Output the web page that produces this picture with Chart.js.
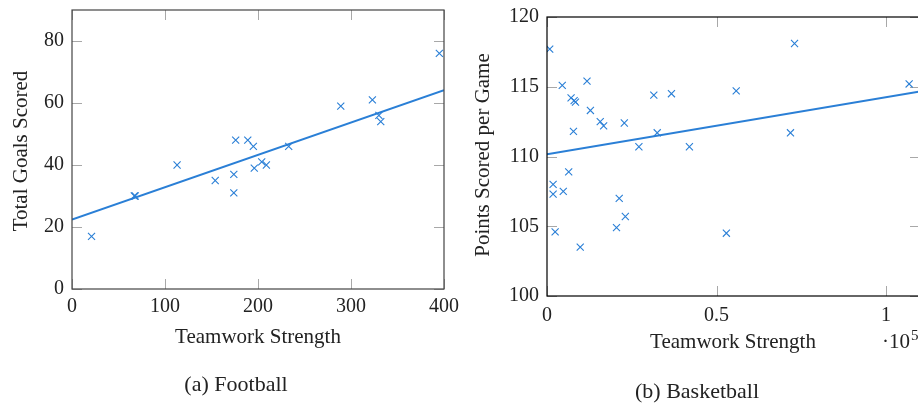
<!DOCTYPE html>
<html>
<head>
<meta charset="utf-8">
<script src="https://cdn.jsdelivr.net/npm/chart.js@4.4.1/dist/chart.umd.min.js"></script>
<style>
  html, body { margin: 0; padding: 0; background: #fff; overflow: hidden; width: 918px; height: 403px; }
  canvas { position: absolute; top: 0; }
  #footballCanvas { left: 0; }
  #basketballCanvas { left: 470px; }
</style>
</head>
<body>
<canvas id="footballCanvas" width="470" height="403"></canvas>
<canvas id="basketballCanvas" width="470" height="403"></canvas>
<script>
// football: teamwork strength vs total goals
var footballX = [21, 67, 68, 113, 154, 174, 174, 176, 189, 195, 196, 204, 209, 233, 289, 323, 330, 332, 395];
var footballY = [17, 30, 30, 40, 35, 37, 31, 48, 48, 46, 39, 41, 40, 46, 59, 61, 56, 54, 76];
var footballFitX = [0, 400];
var footballFitY = [22.4, 64.1];
var footballXTicks = [0, 100, 200, 300, 400];
var footballYTicks = [0, 20, 40, 60, 80];

// basketball: teamwork strength vs points per game
var basketballX = [800, 4500, 11800, 7100, 8000, 8400, 12800, 15700, 16700, 7800, 22800, 31500, 36700, 32500,
                   27100, 42000, 55800, 73000, 71800, 106800, 6400, 1800, 1800, 4800, 21300, 23100, 20500, 2400, 9800, 52900];
var basketballY = [117.7, 115.1, 115.4, 114.2, 114.0, 113.9, 113.3, 112.5, 112.2, 111.8, 112.4, 114.4, 114.5, 111.7,
                   110.7, 110.7, 114.7, 118.1, 111.7, 115.2, 108.9, 108.0, 107.3, 107.5, 107.0, 105.7, 104.9, 104.6, 103.5, 104.5];
var basketballFitX = [0, 110000];
var basketballFitY = [110.16, 114.66];
var basketballXTicks = [0, 50000, 100000];
var basketballYTicks = [100, 105, 110, 115, 120];
var basketballXUnit = 100000;

var blue = '#2a7fd6';
var serif = '"Liberation Serif", "Times New Roman", serif';

function toPoints(xs, ys) {
    return xs.map(function (x, i) { return { x: x, y: ys[i] }; });
}

// pgfplots-like frame: inward ticks on all four sides, then the box
var framePlugin = {
    id: 'frame',
    beforeDatasetsDraw: function (chart) {
        var ctx = chart.ctx, a = chart.chartArea, tl = 10;
        ctx.save();
        ctx.strokeStyle = '#a8a8a8';
        ctx.lineWidth = 1;
        ctx.beginPath();
        chart.scales.x.ticks.forEach(function (t) {
            var px = Math.round(chart.scales.x.getPixelForValue(t.value)) + 0.5;
            ctx.moveTo(px, a.top); ctx.lineTo(px, a.top + tl);
            ctx.moveTo(px, a.bottom); ctx.lineTo(px, a.bottom - tl);
        });
        chart.scales.y.ticks.forEach(function (t) {
            var py = Math.round(chart.scales.y.getPixelForValue(t.value)) + 0.5;
            ctx.moveTo(a.left, py); ctx.lineTo(a.left + tl, py);
            ctx.moveTo(a.right, py); ctx.lineTo(a.right - tl, py);
        });
        ctx.stroke();
        ctx.restore();
    },
    afterDatasetsDraw: function (chart) {
        var ctx = chart.ctx, a = chart.chartArea;
        var o = chart.options.plugins.frame;
        ctx.save();
        ctx.strokeStyle = o.color;
        ctx.lineWidth = 1.2;
        ctx.strokeRect(a.left, a.top, a.right - a.left, a.bottom - a.top);
        ctx.restore();
    }
};

// axis titles, exponent and sub-caption
var labelsPlugin = {
    id: 'labels',
    afterDraw: function (chart) {
        var ctx = chart.ctx;
        var o = chart.options.plugins.labels;
        ctx.save();
        ctx.fillStyle = '#222';
        ctx.textBaseline = 'alphabetic';
        ctx.textAlign = 'center';

        ctx.font = '21px ' + serif;
        ctx.fillText(o.xTitle, o.xTitleX, o.xTitleY);

        ctx.save();
        ctx.translate(o.yTitleX, o.yTitleY);
        ctx.rotate(-Math.PI / 2);
        ctx.fillText(o.yTitle, 0, 0);
        ctx.restore();

        ctx.font = '22px ' + serif;
        ctx.fillText(o.caption, o.captionX, o.captionY);

        if (o.exponent) {
            ctx.textAlign = 'left';
            ctx.font = '21px ' + serif;
            ctx.fillText('\u00b710', o.exponent.x, o.exponent.y);
            var w = ctx.measureText('\u00b710').width;
            ctx.font = '15px ' + serif;
            ctx.fillText(o.exponent.power, o.exponent.x + w + 1, o.exponent.y - 8);
        }
        ctx.restore();
    }
};

function buildChart(canvasId, cfg) {
    var ctx = $id(canvasId).getContext('2d');
    return new Chart(ctx, {
        type: 'scatter',
        data: {
            datasets: [{
                type: 'line',
                data: toPoints(cfg.fitX, cfg.fitY),
                borderColor: blue,
                borderWidth: 2,
                pointRadius: 0,
                fill: false,
                order: 2
            }, {
                data: toPoints(cfg.xs, cfg.ys),
                pointStyle: 'crossRot',
                pointRadius: 5,
                pointBorderWidth: 1.1,
                borderColor: blue,
                backgroundColor: blue,
                order: 1
            }]
        },
        options: {
            responsive: false,
            animation: false,
            devicePixelRatio: 1,
            layout: { padding: cfg.padding },
            plugins: {
                legend: { display: false },
                tooltip: { enabled: false },
                frame: { color: cfg.frameColor },
                labels: cfg.labels
            },
            scales: {
                x: {
                    type: 'linear',
                    min: cfg.xMin, max: cfg.xMax,
                    grid: { display: false, drawTicks: false },
                    border: { display: false },
                    afterBuildTicks: function (s) { s.ticks = cfg.xTicks.map(function (v) { return { value: v }; }); },
                    afterFit: function (s) { s.height = cfg.xHeight; s.paddingLeft = 0; s.paddingRight = 0; },
                    ticks: {
                        padding: cfg.xTickPad,
                        maxRotation: 0,
                        color: '#222',
                        font: { family: serif, size: 20 },
                        callback: cfg.xFormat
                    }
                },
                y: {
                    type: 'linear',
                    min: cfg.yMin, max: cfg.yMax,
                    grid: { display: false, drawTicks: false },
                    border: { display: false },
                    afterBuildTicks: function (s) { s.ticks = cfg.yTicks.map(function (v) { return { value: v }; }); },
                    afterFit: function (s) { s.width = cfg.yWidth; s.paddingTop = 0; s.paddingBottom = 0; },
                    ticks: {
                        padding: 8,
                        color: '#222',
                        font: { family: serif, size: 20 }
                    }
                }
            }
        },
        plugins: [framePlugin, labelsPlugin]
    });
}

function $id(id) { return document.getElementById(id); }

buildChart('footballCanvas', {
    xs: footballX, ys: footballY,
    fitX: footballFitX, fitY: footballFitY,
    xTicks: footballXTicks, yTicks: footballYTicks,
    xMin: 0, xMax: 400, yMin: 0, yMax: 90,
    padding: { left: 0, top: 10, right: 26, bottom: 0 },
    yWidth: 72, xHeight: 114, xTickPad: 6,
    frameColor: '#444',
    xFormat: function (v) { return v; },
    labels: {
        xTitle: 'Teamwork Strength', xTitleX: 258, xTitleY: 343,
        yTitle: 'Total Goals Scored', yTitleX: 27, yTitleY: 151,
        caption: '(a) Football', captionX: 236, captionY: 391
    }
});

buildChart('basketballCanvas', {
    xs: basketballX, ys: basketballY,
    fitX: basketballFitX, fitY: basketballFitY,
    xTicks: basketballXTicks, yTicks: basketballYTicks,
    xMin: 0, xMax: 110000, yMin: 100, yMax: 120,
    padding: { left: 0, top: 17, right: 20, bottom: 0 },
    yWidth: 77, xHeight: 107, xTickPad: 8,
    frameColor: '#000',
    xFormat: function (v) { return v / basketballXUnit; },
    labels: {
        xTitle: 'Teamwork Strength', xTitleX: 263, xTitleY: 348,
        yTitle: 'Points Scored per Game', yTitleX: 19, yTitleY: 155,
        caption: '(b) Basketball', captionX: 227, captionY: 398,
        exponent: { x: 412, y: 348, power: '5' }
    }
});
</script>
</body>
</html>
